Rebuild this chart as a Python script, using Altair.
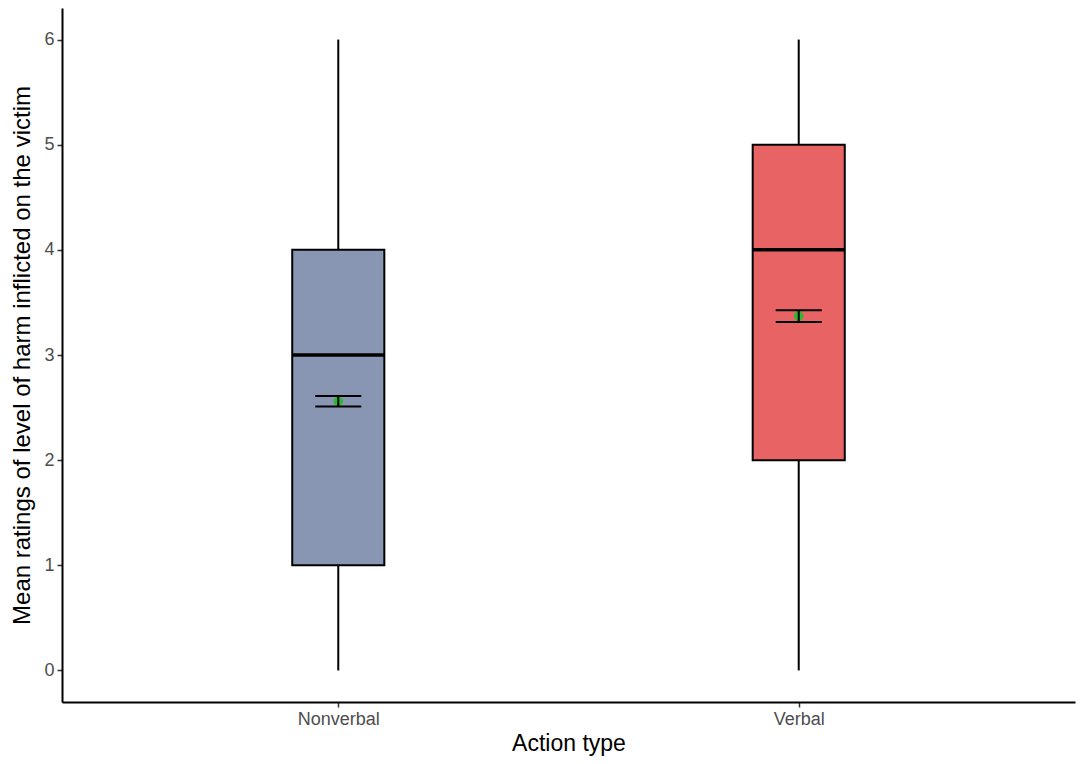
import altair as alt
import pandas as pd

groups = ["Nonverbal", "Verbal"]
whisker_low = [0, 0]
q1 = [1, 2]
median = [3, 4]
q3 = [4, 5]
whisker_high = [6, 6]
means = [2.56, 3.37]
se = [0.05, 0.055]
fills = ["#8896B4", "#E86464"]

BOX_HALF = 0.1
ERR_HALF = 0.05

df = pd.DataFrame({
    "group": groups,
    "pos": [1, 2],
    "lo": whisker_low, "q1": q1, "med": median, "q3": q3, "hi": whisker_high,
    "mean": means, "se": se,
})
df["xl"] = df["pos"] - BOX_HALF
df["xr"] = df["pos"] + BOX_HALF
df["el"] = df["pos"] - ERR_HALF
df["er"] = df["pos"] + ERR_HALF
df["mlo"] = df["mean"] - df["se"]
df["mhi"] = df["mean"] + df["se"]

xscale = alt.Scale(domain=[0.4, 2.6], nice=False, zero=False)
yscale = alt.Scale(domain=[-0.3, 6.3], nice=False, zero=False)

xaxis = alt.Axis(values=[1, 2], title="Action type",
                 labelExpr="datum.value == 1 ? 'Nonverbal' : 'Verbal'")
yaxis = alt.Axis(values=[0, 1, 2, 3, 4, 5, 6], format="d",
                 title="Mean ratings of level of harm inflicted on the victim")

base = alt.Chart(df)

whisk_lo = base.mark_rule(color="black", strokeWidth=2).encode(
    x=alt.X("pos:Q", scale=xscale, axis=xaxis),
    y=alt.Y("lo:Q", scale=yscale, axis=yaxis), y2="q1:Q")
whisk_hi = base.mark_rule(color="black", strokeWidth=2).encode(
    x=alt.X("pos:Q", scale=xscale), y=alt.Y("q3:Q", scale=yscale), y2="hi:Q")
box = base.mark_rect(stroke="black", strokeWidth=2).encode(
    x=alt.X("xl:Q", scale=xscale), x2="xr:Q",
    y=alt.Y("q1:Q", scale=yscale), y2="q3:Q",
    fill=alt.Fill("group:N", scale=alt.Scale(domain=groups, range=fills), legend=None))
med = base.mark_rule(color="black", strokeWidth=3.5).encode(
    x=alt.X("xl:Q", scale=xscale), x2="xr:Q", y=alt.Y("med:Q", scale=yscale))
pt = base.mark_circle(color="#2DB82D", opacity=1, size=90).encode(
    x=alt.X("pos:Q", scale=xscale), y=alt.Y("mean:Q", scale=yscale))
evert = base.mark_rule(color="black", strokeWidth=2).encode(
    x=alt.X("pos:Q", scale=xscale), y=alt.Y("mlo:Q", scale=yscale), y2="mhi:Q")
etop = base.mark_rule(color="black", strokeWidth=2).encode(
    x=alt.X("el:Q", scale=xscale), x2="er:Q", y=alt.Y("mhi:Q", scale=yscale))
ebot = base.mark_rule(color="black", strokeWidth=2).encode(
    x=alt.X("el:Q", scale=xscale), x2="er:Q", y=alt.Y("mlo:Q", scale=yscale))

chart = alt.layer(whisk_lo, whisk_hi, box, med, pt, evert, etop, ebot).properties(
    width=1013, height=694,
    autosize=alt.AutoSizeParams(type="none"),
    padding={"left": 54, "top": 0, "right": 2, "bottom": 54},
).configure_view(stroke=None).configure_axis(
    grid=False, domainColor="black", domainWidth=2, tickColor="#333333",
    tickWidth=1.5, tickSize=5, labelColor="#4D4D4D", labelFontSize=18,
    labelFont="Liberation Sans", titleFont="Liberation Sans", titleFontSize=23,
    titleFontWeight="normal", titleColor="black", labelPadding=3,
).configure_axisX(titlePadding=4).configure_axisY(titlePadding=9, titleFontSize=24)

chart.save("out.html", embed_options={"renderer": "svg", "actions": False})
